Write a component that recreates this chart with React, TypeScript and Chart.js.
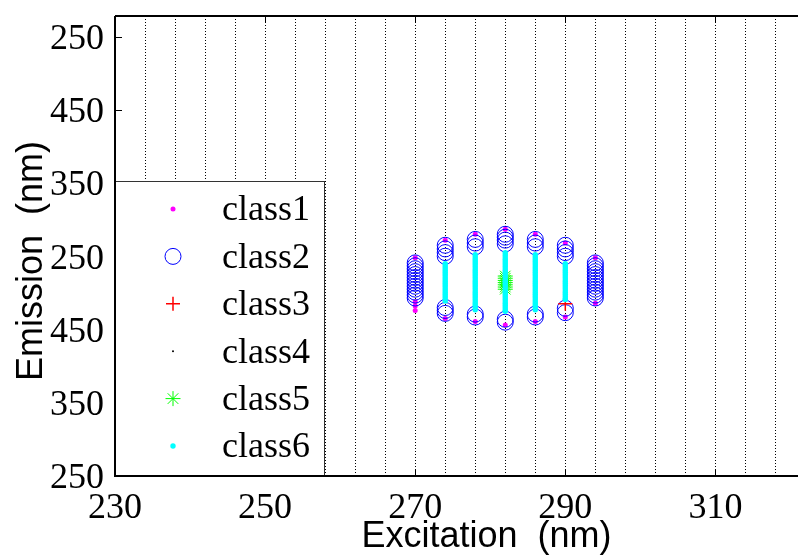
import React, { useEffect, useRef } from 'react';
import { Chart, registerables } from 'chart.js';
import { drawPoint } from 'chart.js/helpers';

Chart.register(...registerables);

// ---- data (excitation columns, emission positions on the stacked axis) ----
const excitation = [270, 274, 278, 282, 286, 290, 294];

const class1Em = [
  [298, 238, 232, 226],
  [322, 215],
  [330, 211],
  [337, 206],
  [330, 211],
  [318, 217],
  [298, 236],
];

const class2Em = [
  [291, 287, 283, 279, 275, 271, 267, 263, 259, 255, 251, 247, 243],
  [315, 310, 305, 300, 230, 226, 222],
  [323, 318, 313, 221, 217],
  [330, 326, 322, 317, 214, 210],
  [323, 318, 313, 221, 217],
  [315, 310, 305, 300, 229, 223],
  [291, 287, 283, 279, 275, 271, 267, 263, 259, 255, 251, 247, 243],
];

const class3Ex = [290];
const class3Em = [235];

const class4Ex: number[] = [];
const class4Em: number[] = [];

const class5Ex = [282, 282, 282, 282, 282, 282, 282];
const class5Em = [273, 270, 267, 264, 261, 258, 255];

const class6Em = [
  [],
  [290, 287, 284, 281, 278, 275, 272, 269, 266, 263, 260, 257, 254, 251, 248, 245, 242, 239],
  [302, 299, 296, 293, 290, 287, 284, 281, 278, 275, 272, 269, 266, 263, 260, 257, 254, 251, 248, 245, 242, 239, 236, 233, 230, 227],
  [305, 302, 299, 296, 293, 290, 287, 284, 281, 278, 275, 272, 269, 266, 263, 260, 257, 254, 251, 248, 245, 242, 239, 236, 233, 230, 227, 225],
  [302, 299, 296, 293, 290, 287, 284, 281, 278, 275, 272, 269, 266, 263, 260, 257, 254, 251, 248, 245, 242, 239, 236, 233, 230, 227],
  [290, 287, 284, 281, 278, 275, 272, 269, 266, 263, 260, 257, 254, 251, 248, 245, 242, 241],
  [],
];

const seriesNames = ['class1', 'class2', 'class3', 'class4', 'class5', 'class6'];
const xTickLabels = [230, 250, 270, 290, 310, 330];
const yTickLabels = ['250', '350', '450', '250', '350', '450', '250'];

const X_MIN = 230;
const X_MAX = 329;
const X_GRID_STEP = 4;
const Y_MIN = 0;
const Y_MAX = 628;
const Y_STEP = 100;

// ---- helpers ----
const byColumn = (cols: number[][]) =>
  excitation.flatMap((x, i) => cols[i].map((y) => ({ x, y })));
const pairs = (xs: number[], ys: number[]) => xs.map((x, i) => ({ x, y: ys[i] }));

const markerStyles = [
  { pointStyle: 'circle', radius: 2.5, borderWidth: 0, fill: '#ff00ff', stroke: '#ff00ff' },
  { pointStyle: 'circle', radius: 8, borderWidth: 1, fill: 'rgba(0,0,0,0)', stroke: '#0000ff' },
  { pointStyle: 'cross', radius: 7, borderWidth: 1.5, fill: '#ff0000', stroke: '#ff0000' },
  { pointStyle: 'circle', radius: 1, borderWidth: 0, fill: '#000000', stroke: '#000000' },
  { pointStyle: 'star', radius: 7.5, borderWidth: 1, fill: '#00ff00', stroke: '#00ff00' },
  { pointStyle: 'circle', radius: 2.7, borderWidth: 0, fill: '#00ffff', stroke: '#00ffff' },
];

const SERIF = '"Liberation Serif", "Times New Roman", serif';
const SANS = '"Liberation Sans", Arial, sans-serif';

const overlayPlugin = {
  id: 'overlay',
  afterDraw(chart: any) {
    const { ctx, chartArea } = chart;
    const { left, right, top, bottom } = chartArea;
    const xs = chart.scales.x;
    const ys = chart.scales.y;
    ctx.save();
    ctx.setLineDash([]);
    ctx.strokeStyle = '#000';
    ctx.lineWidth = 1;
    // inward tick marks
    xTickLabels.forEach((v) => {
      const px = Math.round(xs.getPixelForValue(v)) + 0.5;
      if (px < left || px > right) return;
      ctx.beginPath();
      ctx.moveTo(px, bottom);
      ctx.lineTo(px, bottom - 7);
      ctx.moveTo(px, top);
      ctx.lineTo(px, top + 7);
      ctx.stroke();
    });
    yTickLabels.forEach((_, i) => {
      const py = Math.round(ys.getPixelForValue(Y_MIN + i * Y_STEP)) + 0.5;
      ctx.beginPath();
      ctx.moveTo(left, py);
      ctx.lineTo(left + 7, py);
      ctx.stroke();
    });

    // legend box
    const bw = 210;
    const bh = 295;
    const bx = left;
    const by = bottom - bh;
    ctx.fillStyle = '#fff';
    ctx.fillRect(bx, by, bw, bh);
    ctx.strokeStyle = '#333';
    ctx.lineWidth = 1;
    ctx.strokeRect(bx + 0.5, by + 0.5, bw - 1, bh - 1);
    ctx.font = `36px ${SERIF}`;
    ctx.textBaseline = 'middle';
    ctx.textAlign = 'left';
    seriesNames.forEach((name, i) => {
      const cy = by + 28 + i * 47.4;
      const m = markerStyles[i];
      ctx.fillStyle = m.fill;
      ctx.strokeStyle = m.stroke;
      ctx.lineWidth = m.borderWidth;
      drawPoint(ctx, { pointStyle: m.pointStyle, radius: m.radius, borderWidth: m.borderWidth, rotation: 0 } as any, bx + 58, cy);
      ctx.fillStyle = '#000';
      ctx.fillText(name, bx + 107, cy + 2);
    });

    // axes lines
    ctx.strokeStyle = '#000';
    ctx.lineWidth = 2;
    ctx.beginPath();
    ctx.moveTo(left, top);
    ctx.lineTo(left, bottom);
    ctx.lineTo(right, bottom);
    ctx.stroke();
    ctx.beginPath();
    ctx.moveTo(left, top);
    ctx.lineTo(right, top);
    ctx.stroke();
    ctx.restore();
  },
};

export default function App() {
  const ref = useRef<HTMLCanvasElement | null>(null);

  useEffect(() => {
    document.body.style.margin = '0';
    const canvas = ref.current;
    if (!canvas) return;
    const sets = [
      byColumn(class1Em),
      byColumn(class2Em),
      pairs(class3Ex, class3Em),
      pairs(class4Ex, class4Em),
      pairs(class5Ex, class5Em),
      byColumn(class6Em),
    ];
    const chart = new Chart(canvas, {
      type: 'scatter',
      data: {
        datasets: sets.map((data, i) => {
          const m = markerStyles[i];
          return {
            label: seriesNames[i],
            data,
            pointStyle: m.pointStyle as any,
            pointRadius: m.radius,
            pointBorderWidth: m.borderWidth,
            pointBackgroundColor: m.fill,
            pointBorderColor: m.stroke,
            showLine: false,
            order: 6 - i,
          };
        }),
      },
      options: {
        responsive: false,
        animation: false,
        events: [],
        layout: { autoPadding: false, padding: { top: 16, left: 0, right: 0, bottom: 0 } },
        plugins: { legend: { display: false }, tooltip: { enabled: false } },
        scales: {
          x: {
            type: 'linear',
            min: X_MIN,
            max: X_MAX,
            afterBuildTicks: (s: any) => {
              const t: { value: number }[] = [];
              for (let v = X_MIN; v <= X_MAX; v += X_GRID_STEP) t.push({ value: v });
              s.ticks = t;
            },
            afterFit: (s: any) => {
              s.height = 81;
              s.paddingLeft = 0;
              s.paddingRight = 0;
            },
            ticks: {
              autoSkip: false,
              maxRotation: 0,
              padding: 11,
              color: '#000',
              font: { family: SERIF, size: 36 },
              callback: (v: any) => (xTickLabels.includes(Number(v)) ? String(v) : ''),
            },
            grid: { color: '#000', lineWidth: 1, drawTicks: false },
            border: { display: false, dash: [1, 2] },
            title: {
              display: true,
              text: 'Excitation  (nm)',
              color: '#000',
              font: { family: SANS, size: 36, lineHeight: 1 },
              padding: { top: 0, bottom: 2 },
            },
          },
          y: {
            type: 'linear',
            min: Y_MIN,
            max: Y_MAX,
            afterBuildTicks: (s: any) => {
              s.ticks = yTickLabels.map((_, i) => ({ value: Y_MIN + i * Y_STEP }));
            },
            afterFit: (s: any) => {
              s.width = 115;
              s.paddingTop = 0;
              s.paddingBottom = 0;
            },
            ticks: {
              autoSkip: false,
              padding: 11,
              labelOffset: 3,
              color: '#000',
              font: { family: SERIF, size: 36 },
              callback: (v: any) => yTickLabels[Math.round((Number(v) - Y_MIN) / Y_STEP)] ?? '',
            },
            grid: { display: false, drawTicks: false },
            border: { display: false },
            title: {
              display: true,
              text: 'Emission  (nm)   ',
              color: '#000',
              font: { family: SANS, size: 36, lineHeight: 1 },
              padding: { top: 14, bottom: 0 },
            },
          },
        },
      },
      plugins: [overlayPlugin],
    });
    return () => chart.destroy();
  }, []);

  return (
    <div style={{ width: 798, height: 557, overflow: 'hidden', position: 'relative', background: '#fff' }}>
      <canvas ref={ref} width={858} height={557} style={{ width: 858, height: 557, display: 'block' }} />
    </div>
  );
}
